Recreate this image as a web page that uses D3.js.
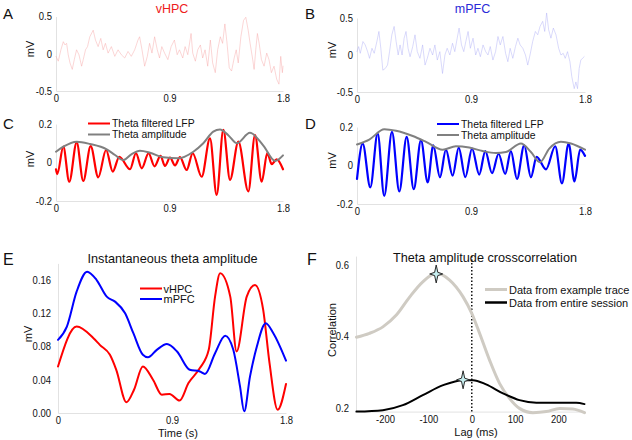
<!DOCTYPE html>
<html><head><meta charset="utf-8">
<script src="https://cdn.jsdelivr.net/npm/d3@7"></script>
<style>body{margin:0;background:#fff} text{font-family:"Liberation Sans",Arial,Helvetica,sans-serif}</style>
</head><body><svg id="c" width="632" height="440"></svg>
<script>
// ---------------- DATA ----------------
const timeTicks = [0, 0.9, 1.8];
const rawTicks = [-0.5, 0, 0.5];
const thetaTicks = [-0.2, 0, 0.2];
const ampTicks = [0, 0.04, 0.08, 0.12, 0.16];
const corrTicks = [0.2, 0.4, 0.6];
const lagTicks = [-200, -100, 0, 100, 200];

// raw LFP, vHPC [time s, mV]
const rawVHPC = [[0,-0.035],[0.018,-0.10],[0.039,0.053],[0.058,0.162],[0.071,0.118],[0.084,0.14],[0.097,-0.013],[0.111,-0.123],[0.129,-0.21],[0.145,-0.079],[0.163,0.053],[0.182,-0.013],[0.203,-0.167],[0.216,-0.079],[0.234,0.053],[0.25,0.096],[0.268,0.228],[0.295,0.316],[0.313,0.184],[0.334,0.096],[0.355,0.206],[0.374,0.053],[0.392,0.14],[0.413,0.009],[0.439,0.096],[0.466,-0.035],[0.492,0.053],[0.518,-0.013],[0.545,-0.057],[0.571,0.031],[0.597,-0.035],[0.624,0.053],[0.65,0.184],[0.663,0.228],[0.682,0.053],[0.703,-0.167],[0.724,-0.035],[0.742,0.14],[0.761,0.009],[0.782,0.228],[0.803,0.053],[0.821,-0.057],[0.839,0.096],[0.861,0.009],[0.887,-0.079],[0.913,0.096],[0.939,0.184],[0.961,-0.013],[0.979,0.053],[1.005,-0.057],[1.024,0.096],[1.045,-0.013],[1.071,0.272],[1.084,0.009],[1.105,-0.10],[1.124,0.053],[1.145,0.118],[1.163,-0.057],[1.182,0.053],[1.203,-0.167],[1.224,0.184],[1.242,-0.123],[1.263,-0.254],[1.282,0.053],[1.303,0.228],[1.321,0.14],[1.339,0.40],[1.355,0.162],[1.374,-0.189],[1.392,-0.232],[1.413,-0.057],[1.429,0.053],[1.445,-0.123],[1.466,0.228],[1.487,0.447],[1.505,0.49],[1.524,0.316],[1.539,0.14],[1.558,-0.057],[1.571,-0.21],[1.584,0.053],[1.597,0.272],[1.611,0.14],[1.629,-0.079],[1.65,-0.167],[1.671,0.009],[1.689,-0.079],[1.708,-0.254],[1.729,-0.167],[1.75,-0.342],[1.768,-0.408],[1.782,-0.035],[1.795,-0.254],[1.8,-0.167]];

// raw LFP, mPFC [time s, mV]
const rawMPFC = [[0,0.045],[0.013,0.114],[0.026,0.023],[0.047,0.182],[0.065,0.136],[0.084,0.045],[0.099,-0.045],[0.118,0.091],[0.136,0.023],[0.157,0.182],[0.173,0.318],[0.188,0.091],[0.204,-0.205],[0.223,-0.182],[0.241,-0.136],[0.257,0.045],[0.275,0.273],[0.293,0.386],[0.309,0.182],[0.325,0],[0.34,0.136],[0.356,0],[0.372,0.227],[0.387,0.318],[0.403,0.091],[0.419,-0.023],[0.44,0.114],[0.458,0.273],[0.476,0.045],[0.497,-0.045],[0.518,0.136],[0.537,-0.136],[0.555,-0.045],[0.576,0.091],[0.597,0],[0.615,0.136],[0.634,-0.068],[0.654,0.045],[0.675,-0.25],[0.694,0],[0.712,0.091],[0.733,0],[0.754,0.159],[0.772,0.045],[0.791,0.227],[0.806,0.364],[0.825,0.136],[0.843,0.045],[0.859,0.182],[0.877,0.318],[0.895,0.091],[0.916,0.227],[0.937,0],[0.955,0.091],[0.974,-0.023],[0.995,0.136],[1.016,0.045],[1.034,0],[1.052,0.114],[1.073,-0.068],[1.094,0.045],[1.113,0.25],[1.131,0.136],[1.152,0.25],[1.173,0.023],[1.191,-0.091],[1.209,0.091],[1.23,-0.045],[1.251,0.114],[1.27,0.227],[1.288,0.136],[1.309,0.091],[1.33,0],[1.348,-0.136],[1.366,0],[1.387,0.182],[1.408,0.318],[1.427,0.273],[1.445,0.386],[1.466,0.455],[1.482,0.318],[1.497,0.568],[1.513,0.341],[1.531,0.227],[1.55,0.364],[1.571,0.273],[1.592,0.091],[1.61,0],[1.628,0.023],[1.644,-0.045],[1.662,0.045],[1.681,-0.091],[1.696,-0.295],[1.715,-0.455],[1.728,-0.364],[1.741,-0.455],[1.754,-0.182],[1.767,-0.068],[1.78,-0.045],[1.793,-0.023]];

// theta filtered LFP (peaks / troughs) and theta amplitude, vHPC
const thetaVHPC = [[0,-0.035],[0.01,-0.06],[0.058,0.082],[0.105,-0.10],[0.164,0.105],[0.216,-0.096],[0.275,0.085],[0.335,-0.077],[0.397,0.065],[0.45,-0.047],[0.502,0.03],[0.587,-0.035],[0.634,0.048],[0.68,-0.03],[0.734,0.048],[0.781,-0.02],[0.829,0.034],[0.864,-0.018],[0.904,0.025],[0.944,-0.015],[0.983,0.028],[1.036,-0.039],[1.084,0.048],[1.155,-0.074],[1.221,0.125],[1.274,-0.168],[1.327,0.17],[1.38,-0.09],[1.446,0.108],[1.525,-0.15],[1.578,0.142],[1.631,-0.1],[1.676,0.05],[1.71,-0.008],[1.75,0.016],[1.8,-0.035]];
const envVHPC = [[0,0.056],[0.058,0.082],[0.164,0.108],[0.27,0.096],[0.402,0.068],[0.468,0.039],[0.534,0.013],[0.6,0.044],[0.666,0.061],[0.745,0.051],[0.851,0.027],[0.97,0.022],[1.089,0.056],[1.168,0.1],[1.247,0.16],[1.3,0.172],[1.366,0.142],[1.433,0.1],[1.538,0.154],[1.644,0.088],[1.737,0.008],[1.8,0.037]];

// theta filtered LFP and theta amplitude, mPFC
const thetaMPFC = [[0,-0.07],[0.045,0.114],[0.105,-0.114],[0.163,0.167],[0.215,-0.158],[0.276,0.175],[0.334,-0.135],[0.392,0.149],[0.448,-0.123],[0.505,0.132],[0.558,-0.088],[0.602,0.105],[0.655,-0.061],[0.702,0.082],[0.755,-0.053],[0.803,0.093],[0.855,-0.061],[0.908,0.088],[0.965,-0.047],[1.013,0.075],[1.066,-0.04],[1.118,0.061],[1.17,-0.044],[1.215,0.075],[1.263,-0.07],[1.32,0.105],[1.373,-0.061],[1.418,0.045],[1.492,-0.02],[1.565,0.1],[1.618,-0.093],[1.671,0.114],[1.717,-0.083],[1.762,0.082],[1.8,0.05]];
const envMPFC = [[0,0.109],[0.097,0.135],[0.216,0.188],[0.308,0.18],[0.44,0.153],[0.545,0.123],[0.676,0.082],[0.781,0.1],[0.886,0.093],[0.992,0.075],[1.097,0.065],[1.176,0.07],[1.294,0.114],[1.373,0.07],[1.444,0.017],[1.518,0.088],[1.61,0.123],[1.689,0.114],[1.8,0.082]];

// instantaneous theta amplitude
const instVHPC = [[0,0.056],[0.147,0.104],[0.28,0.09],[0.33,0.082],[0.41,0.07],[0.46,0.052],[0.54,0.013],[0.6,0.028],[0.67,0.056],[0.75,0.04],[0.82,0.022],[0.88,0.023],[0.96,0.015],[1.03,0.036],[1.12,0.054],[1.19,0.076],[1.24,0.14],[1.28,0.168],[1.36,0.14],[1.41,0.074],[1.49,0.14],[1.555,0.154],[1.62,0.124],[1.67,0.06],[1.734,0.004],[1.8,0.035]];
const instMPFC = [[0,0.088],[0.07,0.104],[0.147,0.146],[0.23,0.17],[0.305,0.16],[0.385,0.14],[0.45,0.134],[0.53,0.12],[0.595,0.096],[0.67,0.07],[0.71,0.067],[0.78,0.076],[0.86,0.083],[0.94,0.074],[1.04,0.052],[1.12,0.05],[1.16,0.047],[1.24,0.072],[1.32,0.093],[1.384,0.076],[1.437,0.032],[1.47,0.002],[1.516,0.044],[1.57,0.08],[1.64,0.108],[1.7,0.096],[1.8,0.063]];

// theta amplitude crosscorrelation [lag ms, r]
const xcExample = [[-266,0.398],[-236,0.409],[-205,0.427],[-174,0.46],[-143,0.511],[-113,0.553],[-82,0.577],[-51,0.558],[-20,0.511],[0,0.465],[18,0.409],[41,0.334],[64,0.269],[87,0.227],[110,0.199],[141,0.187],[172,0.19],[203,0.199],[233,0.197],[260,0.187]];
const xcSession = [[-266,0.19],[-205,0.194],[-159,0.208],[-113,0.236],[-66,0.264],[-20,0.278],[3,0.278],[33,0.266],[72,0.241],[110,0.222],[149,0.215],[195,0.215],[241,0.215],[260,0.211]];
const xcPeaks = [[-82,0.575],[-20,0.279]];

// ---------------- DRAWING ----------------
const svg = d3.select("#c");
const FONT = '"Liberation Sans",Arial,Helvetica,sans-serif';

function squeeze(sel, r) {
  sel.each(function () {
    const L = this.getComputedTextLength();
    this.setAttribute("textLength", (L * r).toFixed(2));
    this.setAttribute("lengthAdjust", "spacingAndGlyphs");
  });
}
function panel(o) {
  const x = d3.scaleLinear().domain(o.xd).range(o.xr);
  const y = d3.scaleLinear().domain(o.yd).range(o.yr);
  const g = svg.append("g");
  const ax = g.append("g").attr("transform", `translate(0,${o.yr[0]})`)
    .call(d3.axisBottom(x).tickValues(o.xt).tickFormat(o.xf).tickSize(0).tickPadding(o.xpad));
  const ay = g.append("g").attr("transform", `translate(${o.xr[0]},0)`)
    .call(d3.axisLeft(y).tickValues(o.yt).tickFormat(o.yf).tickSize(0).tickPadding(o.ypad));
  [ax, ay].forEach(a => {
    a.attr("font-family", FONT).attr("font-size", 10.5);
    a.select(".domain").attr("stroke", "#e2e2e2").attr("stroke-width", 1);
    a.selectAll("text").attr("fill", "#111");
    squeeze(a.selectAll("text"), 0.9);
  });
  return {x, y, g};
}
function txt(x, y, s, opt = {}) {
  const t = svg.append("text").attr("x", x).attr("y", y).text(s)
    .attr("font-size", opt.size || 11).attr("fill", opt.fill || "#111")
    .attr("text-anchor", opt.anchor || "start");
  if (opt.rot) t.attr("transform", `rotate(-90,${x},${y})`);
  if (opt.sq) squeeze(t, opt.sq);
  return t;
}
function line(p, data, color, w, curve) {
  p.g.append("path").datum(data)
    .attr("d", d3.line().x(d => p.x(d[0])).y(d => p.y(d[1])).curve(curve || d3.curveLinear))
    .attr("fill", "none").attr("stroke", color).attr("stroke-width", w)
    .attr("stroke-linejoin", "round").attr("stroke-linecap", "round");
}
function key(x1, x2, y, color, w) {
  svg.append("line").attr("x1", x1).attr("x2", x2).attr("y1", y).attr("y2", y)
    .attr("stroke", color).attr("stroke-width", w);
}
const f1 = d => d === 0 ? "0" : String(d);

// Panel letters
[["A",3,19],["B",305,19],["C",3,129],["D",305,129],["E",3,265],["F",307,265]].forEach(l =>
  txt(l[1], l[2], l[0], {size: l[0] > "D" ? 16 : 15}));

// A
const pA = panel({xd:[0,1.8], xr:[56,283], yd:[-0.5,0.5], yr:[91,16.5], xt:timeTicks, yt:rawTicks, xf:f1, yf:f1, xpad:4, ypad:4});
line(pA, rawVHPC, "rgba(245,160,160,0.55)", 0.8);
txt(172, 12.5, "vHPC", {size:12.5, fill:"#ee1c1c", anchor:"middle"});
txt(33.5, 49, "mV", {size:11, anchor:"middle", rot:true});

// B
const pB = panel({xd:[0,1.8], xr:[357,585], yd:[-0.5,0.5], yr:[92,18], xt:timeTicks, yt:rawTicks, xf:f1, yf:f1, xpad:4, ypad:4});
line(pB, rawMPFC, "rgba(170,170,245,0.55)", 0.8);
txt(472.5, 12.5, "mPFC", {size:12.5, fill:"#2a2ad8", anchor:"middle"});
txt(335.5, 50, "mV", {size:11, anchor:"middle", rot:true});

// C
const pC = panel({xd:[0,1.8], xr:[56,283], yd:[-0.2,0.2], yr:[201,124], xt:timeTicks, yt:thetaTicks, xf:f1, yf:f1, xpad:4, ypad:4});
line(pC, thetaVHPC, "#ff0000", 2.2, d3.curveMonotoneX);
line(pC, envVHPC, "#808080", 2, d3.curveMonotoneX);
txt(33.5, 159, "mV", {size:11, anchor:"middle", rot:true});
key(88, 110, 123.5, "#ff0000", 2);
key(88, 110, 134.5, "#808080", 2);
txt(112, 127, "Theta filtered LFP", {size:10, sq:1.04});
txt(112, 138, "Theta amplitude", {size:10, sq:1.04});

// D
const pD = panel({xd:[0,1.8], xr:[357,585], yd:[-0.2,0.2], yr:[204,127], xt:timeTicks, yt:thetaTicks, xf:f1, yf:f1, xpad:4, ypad:4});
line(pD, thetaMPFC, "#0000ff", 2.2, d3.curveMonotoneX);
line(pD, envMPFC, "#808080", 2, d3.curveMonotoneX);
txt(335.5, 160.5, "mV", {size:11, anchor:"middle", rot:true});
key(437, 459, 124, "#0000ff", 2);
key(437, 459, 135, "#808080", 2);
txt(461, 127.5, "Theta filtered LFP", {size:10, sq:1.04});
txt(461, 138.5, "Theta amplitude", {size:10, sq:1.04});

// E
const pE = panel({xd:[0,1.8], xr:[58,286], yd:[0,0.18], yr:[413,263.4], xt:timeTicks, yt:ampTicks, xf:f1, yf:d3.format(".2f"), xpad:4, ypad:7});
line(pE, instVHPC, "#ff0000", 2, d3.curveMonotoneX);
line(pE, instMPFC, "#0000ff", 2, d3.curveMonotoneX);
txt(172.5, 262.5, "Instantaneous theta amplitude", {size:13.5, anchor:"middle", sq:0.94});
txt(178, 437, "Time (s)", {size:11, anchor:"middle"});
txt(32, 334, "mV", {size:11, anchor:"middle", rot:true});
key(140, 162, 288.5, "#ff0000", 2);
key(140, 162, 299, "#0000ff", 2);
txt(163.5, 292.5, "vHPC", {size:11});
txt(163.5, 303, "mPFC", {size:11});

// F
const pF = panel({xd:[-267,260], xr:[356,584.5], yd:[0.19,0.625], yr:[411.6,256.1], xt:lagTicks, yt:corrTicks, xf:f1, yf:f1, xpad:4, ypad:7});
pF.g.append("line").attr("x1", pF.x(0)).attr("x2", pF.x(0)).attr("y1", pF.y(0.19)).attr("y2", pF.y(0.625))
  .attr("stroke", "#111").attr("stroke-width", 1.5).attr("stroke-dasharray", "1.5,2");
line(pF, xcExample, "#cfcbc3", 3, d3.curveMonotoneX);
line(pF, xcSession, "#000", 2, d3.curveMonotoneX);
const star = "M0,-9L1.6,-1.6L6.5,0L1.6,1.6L0,9L-1.6,1.6L-6.5,0L-1.6,-1.6Z";
pF.g.selectAll("path.star").data(xcPeaks).join("path").attr("class","star")
  .attr("d", star).attr("transform", d => `translate(${pF.x(d[0])},${pF.y(d[1])})`)
  .attr("fill", "#c6eef0").attr("stroke", "#2a2a2a").attr("stroke-width", 1);
txt(485, 261.5, "Theta amplitude crosscorrelation", {size:13.5, anchor:"middle", sq:0.94});
txt(476, 436, "Lag (ms)", {size:11, anchor:"middle"});
txt(335.5, 330, "Correlation", {size:11, anchor:"middle", rot:true});
key(485, 507, 289.5, "#cfcbc3", 3);
key(485, 507, 302.5, "#000", 2.5);
txt(509, 293.5, "Data from example trace", {size:11});
txt(509, 306.5, "Data from entire session", {size:11});
</script></body></html>
